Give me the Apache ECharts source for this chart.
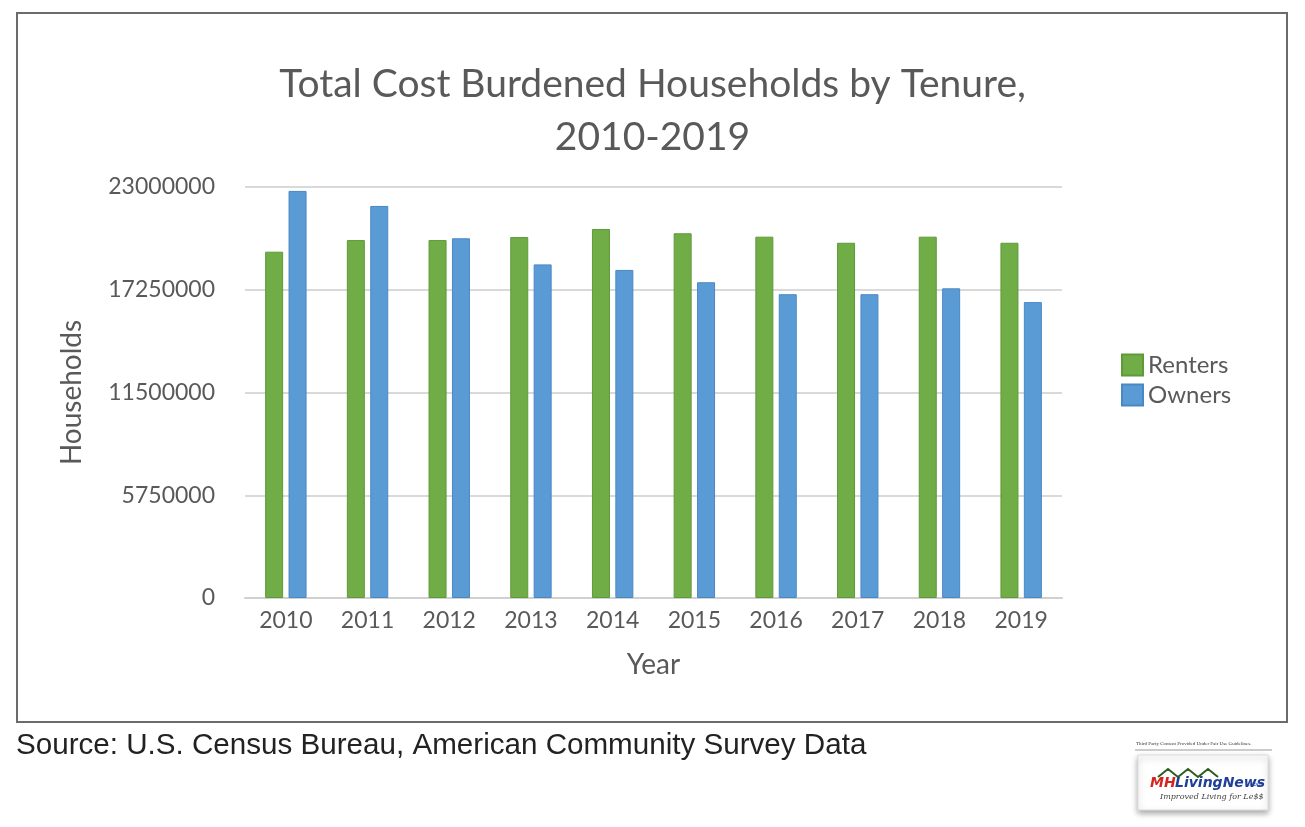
<!DOCTYPE html>
<html>
<head>
<meta charset="utf-8">
<script src="https://cdn.jsdelivr.net/npm/echarts@6/dist/echarts.min.js"></script>
<style>
  html, body { margin: 0; padding: 0; background: #fff; }
  #frame { position: absolute; left: 16px; top: 12px; width: 1268px; height: 707px; border: 2px solid #6b6b6b; }
  #chart { position: absolute; left: 0; top: 0; width: 1305px; height: 827px; }
</style>
</head>
<body>
<div id="frame"></div>
<div id="chart"></div>
<script>
// data
var years = ['2010', '2011', '2012', '2013', '2014', '2015', '2016', '2017', '2018', '2019'];
var renters = [19380000, 20030000, 20030000, 20200000, 20650000, 20410000, 20220000, 19880000, 20220000, 19880000];
var owners = [22780000, 21940000, 20130000, 18670000, 18360000, 17670000, 17000000, 17000000, 17330000, 16560000];
var yTicks = [0, 5750000, 11500000, 17250000, 23000000];

var txt = '#595959';
var font = 'Lato, "Open Sans", sans-serif';

var chart = echarts.init(document.getElementById('chart'), null, {renderer: 'canvas'});

chart.setOption({
	animation: false,
	title: {
		text: 'Total Cost Burdened Households by Tenure,\n2010-2019',
		left: 'center',
		top: 53,
		textStyle: { color: txt, fontFamily: font, fontSize: 39, fontWeight: 'normal', lineHeight: 53, align: 'center' }
	},
	legend: {
		orient: 'vertical',
		left: 1116,
		top: 348,
		itemWidth: 21,
		itemHeight: 21,
		itemGap: 6,
		icon: 'rect',
		textStyle: { color: txt, fontFamily: font, fontSize: 24 },
		data: ['Renters', 'Owners']
	},
	grid: { left: 245, right: 243, top: 187, bottom: 229 },
	xAxis: {
		type: 'category',
		data: years,
		name: 'Year',
		nameLocation: 'middle',
		nameGap: 53,
		nameTextStyle: { color: txt, fontFamily: font, fontSize: 28 },
		axisLine: { lineStyle: { color: '#d0d0d0', width: 2 } },
		axisTick: { show: false },
		axisLabel: { color: txt, fontFamily: font, fontSize: 23, margin: 11 }
	},
	yAxis: {
		type: 'value',
		min: yTicks[0],
		max: yTicks[yTicks.length - 1],
		interval: yTicks[1] - yTicks[0],
		name: 'Households',
		nameLocation: 'middle',
		nameGap: 159,
		nameRotate: 90,
		nameTextStyle: { color: txt, fontFamily: font, fontSize: 28 },
		axisLine: { show: false },
		axisTick: { show: false },
		splitLine: { lineStyle: { color: '#d9d9d9', width: 2 } },
		axisLabel: { color: txt, fontFamily: font, fontSize: 23, margin: 30, formatter: function (v) { return String(v); } }
	},
	series: [
		{
			name: 'Renters',
			type: 'bar',
			data: renters,
			barWidth: 18,
			barGap: '30%',
			itemStyle: { color: '#70ad47', borderColor: '#5e9a38', borderWidth: 1 }
		},
		{
			name: 'Owners',
			type: 'bar',
			data: owners,
			barWidth: 18,
			barGap: '30%',
			itemStyle: { color: '#5b9bd5', borderColor: '#4a88c4', borderWidth: 1 }
		}
	],
	graphic: [
		{
			type: 'text',
			left: 16,
			top: 731,
			style: { text: 'Source: U.S. Census Bureau, American Community Survey Data', fill: '#222', font: '29.6px "Liberation Sans", Arial, sans-serif' }
		},
		{
			type: 'text',
			left: 1136,
			top: 741,
			style: { text: 'Third Party Content Provided Under Fair Use Guidelines.', fill: '#333', font: '5px "Liberation Serif", serif' }
		},
		{
			type: 'line',
			shape: { x1: 1135, y1: 750, x2: 1272, y2: 750 },
			style: { stroke: '#999', lineWidth: 1 }
		},
		{
			type: 'rect',
			shape: { x: 1138, y: 755, width: 130, height: 55 },
			style: { fill: '#fff', stroke: '#ddd', lineWidth: 1, shadowBlur: 6, shadowColor: 'rgba(0,0,0,0.35)', shadowOffsetY: 3 }
		},
		{
			type: 'polyline',
			shape: { points: [[1158, 777], [1168, 769], [1178, 777], [1188, 769], [1198, 777], [1208, 769], [1218, 777]] },
			style: { stroke: '#2e5e1e', lineWidth: 2, fill: null }
		},
		{
			type: 'text',
			left: 1150,
			top: 776,
			style: { text: 'MH', fill: '#d6231f', font: 'italic bold 14px "DejaVu Sans", sans-serif' }
		},
		{
			type: 'text',
			left: 1175,
			top: 776,
			style: { text: 'LivingNews', fill: '#1f3f9a', font: 'italic bold 14px "DejaVu Sans", sans-serif' }
		},
		{
			type: 'text',
			left: 1248,
			top: 781,
			style: { text: '.com', fill: '#1f3f9a', font: '6px "DejaVu Sans", sans-serif' }
		},
		{
			type: 'text',
			left: 1160,
			top: 793,
			style: { text: 'Improved Living for Le$$', fill: '#444', font: 'italic 8px "DejaVu Serif", serif' }
		}
	]
});
</script>
</body>
</html>
